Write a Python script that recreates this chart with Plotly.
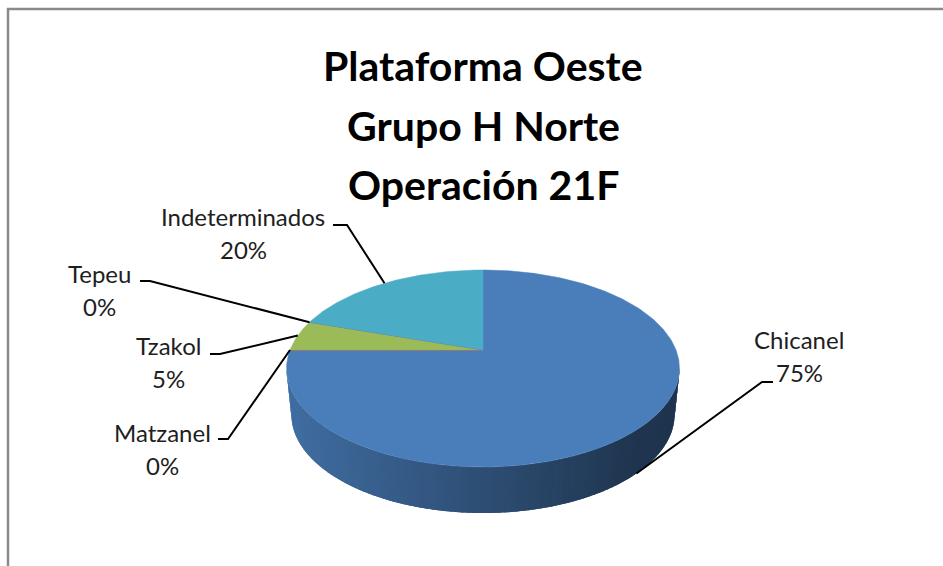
import numpy as np
import plotly.graph_objects as go

# ---- data ----
categories = ["Chicanel", "Matzanel", "Tzakol", "Tepeu", "Indeterminados"]
values = [75, 0, 5, 0, 20]
colors = ["#4A7EBB", "#C0504D", "#9BBB59", "#8064A2", "#4BACC6"]
title_lines = ["Plataforma Oeste", "Grupo H Norte", "Operación 21F"]

# ---- 3D pie geometry (pixel space) ----
CX, CY = 483.0, 350.0          # projected centre of the top face
RX = 193.0                     # horizontal radius
PA, PC = -29.29, 0.1878        # perspective terms for depth axis
DEPTH = 46.0                   # wall height
BOTTOM_SCALE = 0.975           # bottom rim slightly narrower
START = 90.0                   # first slice starts at 12 o'clock, clockwise


def top_pt(phi):
    r = np.radians(phi)
    den = 1 + PC * np.sin(r)
    return CX + RX * np.cos(r) / den, (PA * np.sin(r) + CY) / den


def bottom_pt(phi):
    x, y = top_pt(phi)
    return CX + (x - CX) * BOTTOM_SCALE, y + DEPTH


def shade(hex_color, f):
    h = hex_color.lstrip("#")
    r, g, b = (int(h[i:i + 2], 16) for i in (0, 2, 4))
    return "rgb(%d,%d,%d)" % (r * f, g * f, b * f)


total = float(sum(values))
bounds = []
a = START
for v in values:
    b = a - 360.0 * v / total
    bounds.append((a, b))
    a = b

# visible front wall range (silhouette where sin(phi) = -PC)
sil = np.degrees(np.arcsin(PC))
VIS_LO, VIS_HI = -180.0 + sil, -sil

fig = go.Figure()

# side wall, drawn as shaded overlapping strips (left to right)
x_left, _ = top_pt(VIS_LO)
x_right, _ = top_pt(VIS_HI)
for (a0, a1), col in zip(bounds, colors):
    lo, hi = max(min(a0, a1), VIS_LO), min(max(a0, a1), VIS_HI)
    if hi <= lo:
        continue
    n = max(2, int((hi - lo) / 1.5))
    edges = np.linspace(lo, hi, n + 1)
    step = edges[1] - edges[0]
    for p0, p1 in zip(edges[:-1], edges[1:]):
        ph = np.linspace(p0, min(hi, p1 + 1.2 * step), 5)
        tx, ty = top_pt(ph)
        bx, by = bottom_pt(ph[::-1])
        xm = top_pt((p0 + p1) / 2)[0]
        t = (xm - x_left) / (x_right - x_left)
        f = max(0.42, 0.87 - 0.5 * t)
        c = shade(col, f)
        fig.add_trace(go.Scatter(
            x=np.concatenate([tx, bx]), y=np.concatenate([ty, by]),
            fill="toself", fillcolor=c, mode="none",
            hoverinfo="skip", showlegend=False))

# top face slices
for (a0, a1), col, v in zip(bounds, colors, values):
    if v == 0:
        ex, ey = top_pt(a0)
        fig.add_trace(go.Scatter(
            x=[CX, ex], y=[CY, ey], mode="lines",
            line=dict(color=col, width=1), hoverinfo="skip", showlegend=False))
        continue
    ph = np.linspace(a0, a1, max(3, int(abs(a1 - a0))))
    ax, ay = top_pt(ph)
    fig.add_trace(go.Scatter(
        x=np.concatenate([[CX], ax, [CX]]), y=np.concatenate([[CY], ay, [CY]]),
        fill="toself", fillcolor=col, mode="lines",
        line=dict(color=col, width=0.5), hoverinfo="skip", showlegend=False))

# data labels with leader lines
label_layout = {
    # name: (centre x, first baseline, stub start x, stub end x, stub y)
    "Chicanel": (799, 348, 773, 762, 382),
    "Matzanel": (162, 441, 218, 228, 439),
    "Tzakol": (168, 354, 210, 220, 354),
    "Tepeu": (99, 282, 140, 150, 281),
    "Indeterminados": (243, 225, 333, 347, 225),
}
LBL_SIZE = 24
annotations = []
for (a0, a1), name, v in zip(bounds, categories, values):
    mid = (a0 + a1) / 2
    if np.sin(np.radians(mid)) < -PC:
        px, py = bottom_pt(mid)
    else:
        px, py = top_pt(mid)
    lx, base, sx0, sx1, sy = label_layout[name]
    fig.add_trace(go.Scatter(
        x=[sx0, sx1, px], y=[sy, sy, py], mode="lines",
        line=dict(color="black", width=2), hoverinfo="skip", showlegend=False))
    pct = "%d%%" % round(100 * v / total)
    for txt, bl in ((name, base), (pct, base + 33)):
        annotations.append(dict(
            x=lx, y=bl - 0.36 * LBL_SIZE, xref="x", yref="y", text=txt,
            showarrow=False, xanchor="center", yanchor="middle",
            font=dict(family="Lato", size=LBL_SIZE, color="#1e1e1e")))

# title
T_SIZE = 41
for txt, bl in zip(title_lines, (80, 140, 199)):
    annotations.append(dict(
        x=483, y=bl - 0.36 * T_SIZE, xref="x", yref="y", text="<b>%s</b>" % txt,
        showarrow=False, xanchor="center", yanchor="middle",
        font=dict(family="Lato", size=T_SIZE, color="black")))

fig.update_layout(
    width=943, height=566, autosize=False,
    margin=dict(l=0, r=0, t=0, b=0),
    paper_bgcolor="white", plot_bgcolor="white",
    xaxis=dict(range=[0, 943], visible=False, fixedrange=True),
    yaxis=dict(range=[566, 0], visible=False, fixedrange=True),
    annotations=annotations,
    shapes=[
        dict(type="line", xref="x", yref="y", x0=7, y0=9, x1=943, y1=9,
             line=dict(color="#8a8a8a", width=2.5)),
        dict(type="line", xref="x", yref="y", x0=8, y0=8, x1=8, y1=566,
             line=dict(color="#8a8a8a", width=2.5)),
    ],
    showlegend=False,
)

fig.write_html("out.html")
